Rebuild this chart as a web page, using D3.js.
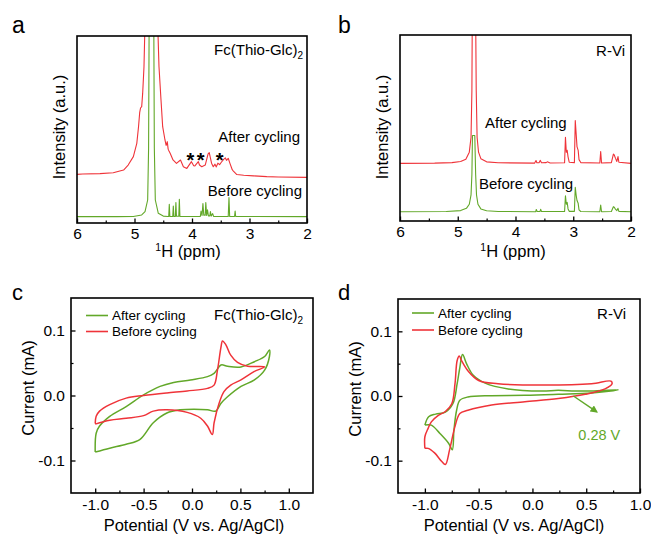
<!DOCTYPE html>
<html>
<head>
<meta charset="utf-8">
<script src="https://cdn.jsdelivr.net/npm/d3@7"></script>
<style>
  body { margin: 0; background: #fff; }
  svg { font-family: Arial, "Liberation Sans", sans-serif; }
</style>
</head>
<body>
<svg id="fig" width="651" height="535"></svg>
<script>
const RED = '#ef3339', GREEN = '#62a829';

// NMR Fc(Thio-Glc)2 : [ppm, intensity a.u.]
const nmrA_after = [
  [6.0,26.0],[5.9,26.2],[5.6,26.4],[5.37,26.9],[5.19,28.3],[5.11,31.0],[5.02,35.5],[4.96,42.6],[4.93,51.5],[4.91,59],
  [4.895,61.5],[4.875,62.2],[4.858,69.3],[4.835,83.6],[4.80,130],[4.62,130],[4.574,83.6],[4.539,65.8],[4.51,51.5],
  [4.47,44.4],[4.45,41.5],[4.43,43.5],[4.415,39.5],[4.40,38.5],[4.38,37.3],[4.33,33.7],[4.27,31.9],[4.20,33.7],
  [4.15,30.1],[4.09,29.2],[4.01,32.8],[3.97,30.6],[3.95,30.5],[3.89,32.8],[3.87,31],[3.83,30.1],[3.77,31],[3.72,37],
  [3.70,37.6],[3.66,32],[3.63,30.1],[3.60,31.5],[3.58,30],[3.55,32],[3.52,31.2],[3.49,32.5],[3.45,34],[3.42,34.8],
  [3.40,33.5],[3.37,34.6],[3.34,31.9],[3.30,28.5],[3.28,27.8],[3.22,25.9],[3.1,25.5],[2.93,25.2],[2.70,24.8],[2.5,24.6],[2.0,24.4]
];
const nmrA_before = [
  [6.0,3.4],[5.3,3.4],[5.02,3.5],[4.875,4.3],[4.817,6.1],[4.771,12.3],[4.755,40],[4.745,110],[4.665,110],[4.655,40],
  [4.638,12.3],[4.586,5.2],[4.50,3.7],[4.42,3.5],
  [4.405,3.5],[4.395,10.0],[4.385,3.5],[4.335,3.5],[4.325,9.1],[4.315,3.5],[4.29,3.5],[4.28,10.9],[4.27,3.6],
  [4.23,3.6],[4.22,12.7],[4.21,3.5],
  [3.855,3.5],[3.843,6.4],[3.825,4.0],[3.81,10.4],[3.795,4.2],[3.77,4.2],[3.76,10.9],[3.745,4.0],[3.73,7.1],[3.715,3.8],
  [3.69,3.8],[3.68,6.1],[3.665,3.7],[3.64,5.0],[3.625,3.5],
  [3.37,3.5],[3.357,13.6],[3.345,3.5],[3.26,3.5],[3.25,6.4],[3.24,3.5],[2.0,3.4]
];
const starPpm = [4.03, 3.85, 3.52];
const starLevel = 30.2;

// NMR R-Vi
const nmrB_after = [
  [6.0,31.0],[5.4,31.1],[5.1,31.4],[4.95,32.0],[4.86,33.2],[4.80,37],[4.77,45],[4.755,70],[4.745,130],[4.695,130],
  [4.68,70],[4.665,45],[4.64,37],[4.60,33.5],[4.50,31.8],[4.3,31.3],[3.67,31.1],[3.645,32.5],[3.63,31.3],[3.59,31.4],
  [3.57,32.6],[3.55,31.3],[3.47,31.4],[3.45,31.8],[3.40,31.2],
  [3.15,31.3],[3.135,45.0],[3.12,37],[3.105,38],[3.09,34.5],[3.07,31.6],
  [2.98,31.4],[2.965,54],[2.95,47],[2.935,40],[2.915,38],[2.90,33],[2.87,31.4],
  [2.54,31.2],[2.525,37.3],[2.51,31.2],
  [2.34,31.4],[2.32,34],[2.305,36],[2.29,35.5],[2.27,33.8],[2.245,32],[2.225,34.6],[2.21,31.6],[2.0,31.0]
];
const nmrB_before = [
  [6.0,5.0],[5.2,5.1],[4.95,5.6],[4.85,6.8],[4.80,9],[4.77,14],[4.755,25],[4.745,46],[4.705,46],[4.69,25],[4.675,14],
  [4.65,9],[4.60,6.5],[4.50,5.5],[4.3,5.1],
  [3.65,5.0],[3.64,6.2],[3.625,5.1],[3.575,5.2],[3.565,6.3],[3.55,5.1],
  [3.15,5.1],[3.135,13.6],[3.12,9],[3.105,10],[3.09,6.5],[3.07,5.2],
  [2.98,5.2],[2.965,18.1],[2.95,14],[2.935,11],[2.915,9.5],[2.90,6],[2.87,5.1],
  [2.54,5.0],[2.525,8.6],[2.51,5.0],
  [2.34,5.1],[2.32,6.6],[2.305,7.7],[2.29,7.4],[2.27,6.4],[2.245,5.6],[2.225,6.8],[2.21,5.2],[2.0,5.0]
];

// CV : [potential V, current mA]
const cvC_after = [
  [-1.0,-0.087],[-0.99,-0.058],[-0.955,-0.047],[-0.85,-0.032],[-0.68,-0.017],[-0.50,0.001],[-0.33,0.014],[-0.19,0.020],
  [-0.016,0.024],[0.16,0.029],[0.228,0.034],[0.30,0.047],[0.367,0.045],[0.506,0.044],[0.645,0.052],[0.75,0.060],[0.80,0.070],
  [0.80,0.06],[0.75,0.039],[0.645,0.024],[0.506,0.014],[0.367,-0.002],[0.30,-0.012],[0.245,-0.024],[0.16,-0.022],
  [0.02,-0.021],[-0.12,-0.022],[-0.26,-0.027],[-0.40,-0.042],[-0.54,-0.068],[-0.68,-0.075],[-0.85,-0.081],[-1.0,-0.087]
];
const cvC_before = [
  [-1.0,-0.043],[-0.99,-0.032],[-0.955,-0.024],[-0.85,-0.014],[-0.68,-0.004],[-0.5,0.0],[-0.26,0.004],[-0.05,0.007],
  [0.16,0.011],[0.228,0.016],[0.263,0.039],[0.30,0.075],[0.315,0.084],[0.35,0.078],[0.40,0.062],[0.47,0.051],
  [0.575,0.045],[0.75,0.044],[0.645,0.037],[0.506,0.024],[0.40,0.016],[0.33,0.006],[0.28,-0.012],[0.228,-0.042],
  [0.21,-0.060],[0.16,-0.047],[0.09,-0.035],[-0.05,-0.026],[-0.26,-0.022],[-0.40,-0.024],[-0.50,-0.031],
  [-0.68,-0.035],[-0.85,-0.038],[-1.0,-0.044]
];
const cvD_after = [
  [-1.0,-0.045],[-0.965,-0.032],[-0.90,-0.028],[-0.81,-0.025],[-0.74,-0.012],[-0.70,0.019],[-0.675,0.044],[-0.65,0.064],
  [-0.61,0.049],[-0.55,0.032],[-0.44,0.020],[-0.225,0.011],[0.085,0.0077],[0.24,0.0087],[0.395,0.0077],[0.55,0.0077],
  [0.80,0.0097],[0.55,0.0046],[0.24,0.0026],[-0.07,0.001],[-0.38,0.0005],[-0.60,-0.0015],[-0.675,-0.0066],
  [-0.705,-0.022],[-0.73,-0.053],[-0.745,-0.083],[-0.78,-0.073],[-0.86,-0.058],[-0.94,-0.045],[-1.0,-0.045]
];
const cvD_before = [
  [-1.0,-0.081],[-1.0,-0.063],[-0.97,-0.05],[-0.94,-0.04],[-0.875,-0.030],[-0.81,-0.024],[-0.75,-0.012],[-0.72,0.019],
  [-0.70,0.055],[-0.68,0.062],[-0.66,0.055],[-0.60,0.039],[-0.50,0.024],[-0.32,0.019],[0.085,0.017],[0.55,0.019],
  [0.73,0.023],[0.74,0.019],[0.675,0.011],[0.49,0.0026],[0.24,-0.004],[-0.07,-0.009],[-0.38,-0.014],[-0.60,-0.022],
  [-0.675,-0.027],[-0.72,-0.047],[-0.77,-0.083],[-0.81,-0.106],[-0.845,-0.101],[-0.91,-0.088],[-0.97,-0.081],[-1.0,-0.081]
];
const arrowD = [[0.381,0.0],[0.598,-0.0245]];

// ticks
const ppmTicks = [6, 5, 4, 3, 2];
const ppmLabels = ['6', '5', '4', '3', '2'];
const ppmMinor = [5.5, 4.5, 3.5, 2.5];
const cvXTicks = [-1, -0.5, 0, 0.5, 1];
const cvXLabels = ['-1.0', '-0.5', '0.0', '0.5', '1.0'];
const cvXMinor = [-0.75, -0.25, 0.25, 0.75];
const cvYTicks = [-0.1, 0, 0.1];
const cvYLabels = ['-0.1', '0.0', '0.1'];
const cvYMinor = [-0.05, 0.05];

const svg = d3.select('#fig');
const FONT = 'Arial, "Liberation Sans", sans-serif';

function makePanel(box, xDom, yDom, name) {
  const x = d3.scaleLinear().domain(xDom).range([box.x0, box.x1]);
  const y = d3.scaleLinear().domain(yDom).range([box.y1, box.y0]);
  const g = svg.append('g');
  g.append('clipPath').attr('id', 'clip-' + name)
    .append('rect').attr('x', box.x0).attr('y', box.y0)
    .attr('width', box.x1 - box.x0).attr('height', box.y1 - box.y0);
  const plot = g.append('g').attr('clip-path', `url(#clip-${name})`);
  return { box, x, y, g, plot };
}

function xAxis(p, ticks, labels, minor, pad) {
  const a = p.g.append('g').attr('transform', `translate(0,${p.box.y1})`)
    .call(d3.axisBottom(p.x).tickValues(ticks).tickFormat((d, i) => labels[i]).tickSize(-4.5).tickPadding(pad))
    .attr('font-size', 15.5).attr('font-family', FONT);
  a.select('.domain').remove();
  a.selectAll('line').attr('stroke-width', 1.3);
  const m = p.g.append('g').attr('transform', `translate(0,${p.box.y1})`)
    .call(d3.axisBottom(p.x).tickValues(minor).tickFormat('').tickSize(-2.5));
  m.select('.domain').remove();
  m.selectAll('line').attr('stroke-width', 1.2);
}

function yAxis(p, ticks, labels, minor) {
  const a = p.g.append('g').attr('transform', `translate(${p.box.x0},0)`)
    .call(d3.axisLeft(p.y).tickValues(ticks).tickFormat((d, i) => labels[i]).tickSize(-4.5).tickPadding(6))
    .attr('font-size', 15.5).attr('font-family', FONT);
  a.select('.domain').remove();
  a.selectAll('line').attr('stroke-width', 1.3);
  const m = p.g.append('g').attr('transform', `translate(${p.box.x0},0)`)
    .call(d3.axisLeft(p.y).tickValues(minor).tickFormat('').tickSize(-2.5));
  m.select('.domain').remove();
  m.selectAll('line').attr('stroke-width', 1.2);
}

function frame(p) {
  p.g.append('rect').attr('x', p.box.x0).attr('y', p.box.y0)
    .attr('width', p.box.x1 - p.box.x0).attr('height', p.box.y1 - p.box.y0)
    .attr('fill', 'none').attr('stroke', '#000').attr('stroke-width', 1.6);
}

function trace(p, data, color, w, curve) {
  const line = d3.line().x(d => p.x(d[0])).y(d => p.y(d[1])).curve(curve || d3.curveLinear);
  p.plot.append('path').datum(data).attr('d', line)
    .attr('fill', 'none').attr('stroke', color).attr('stroke-width', w)
    .attr('stroke-linejoin', 'round');
}

function text(x, y, str, size, opts = {}) {
  return svg.append('text').attr('x', x).attr('y', y).attr('font-size', size)
    .attr('text-anchor', opts.anchor || 'start').attr('fill', opts.fill || '#000')
    .attr('font-weight', opts.weight || 'normal').text(str);
}

function ppmTitle(cx) {
  const t = svg.append('text').attr('x', cx).attr('y', 257).attr('font-size', 16.5).attr('text-anchor', 'middle');
  t.append('tspan').attr('font-size', 10.5).attr('dy', -6).text('1');
  t.append('tspan').attr('dy', 6).text('H (ppm)');
}

function rotTitle(x, cy, str) {
  svg.append('text').attr('transform', `translate(${x},${cy}) rotate(-90)`)
    .attr('font-size', 16.5).attr('text-anchor', 'middle').text(str);
}

function fcLabel(xEnd, y) {
  const t = svg.append('text').attr('x', xEnd).attr('y', y).attr('font-size', 15).attr('text-anchor', 'end');
  t.append('tspan').text('Fc(Thio-Glc)');
  t.append('tspan').attr('font-size', 10).attr('dy', 4).text('2');
}

// ---------- panel a ----------
const pa = makePanel({ x0: 77, x1: 307, y0: 36, y1: 223 }, [6, 2], [0, 100], 'a');
trace(pa, nmrA_after, RED, 1.1);
trace(pa, nmrA_before, GREEN, 1.1);
xAxis(pa, ppmTicks, ppmLabels, ppmMinor, 4.5);
frame(pa);
starPpm.forEach(v => text(pa.x(v), pa.y(starLevel), '*', 20, { anchor: 'middle', weight: 'bold' }));
fcLabel(303, 55);
text(300, 142, 'After cycling', 15, { anchor: 'end' });
text(302, 195.5, 'Before cycling', 15, { anchor: 'end' });
ppmTitle(188);
rotTitle(65, 127, 'Intensity (a.u.)');
text(12, 33, 'a', 23);

// ---------- panel b ----------
const pb = makePanel({ x0: 400, x1: 631, y0: 35, y1: 221 }, [6, 2], [0, 100], 'b');
trace(pb, nmrB_after, RED, 1.1);
trace(pb, nmrB_before, GREEN, 1.1);
xAxis(pb, ppmTicks, ppmLabels, ppmMinor, 4.5);
frame(pb);
text(625, 56, 'R-Vi', 15, { anchor: 'end' });
text(485, 127.5, 'After cycling', 15);
text(479, 188.5, 'Before cycling', 15);
ppmTitle(513);
rotTitle(388, 127, 'Intensity (a.u.)');
text(338, 33, 'b', 23);

// ---------- panel c ----------
const pc = makePanel({ x0: 71, x1: 313, y0: 298, y1: 493 }, [-1.25, 1.25], [-0.15, 0.15], 'c');
trace(pc, cvC_after, GREEN, 1.5, d3.curveCatmullRom);
trace(pc, cvC_before, RED, 1.5, d3.curveCatmullRom);
xAxis(pc, cvXTicks, cvXLabels, cvXMinor, 6);
yAxis(pc, cvYTicks, cvYLabels, cvYMinor);
frame(pc);

function legend(x0, yA, yB) {
  svg.append('line').attr('x1', x0).attr('x2', x0 + 22).attr('y1', yA).attr('y2', yA).attr('stroke', GREEN).attr('stroke-width', 1.6);
  svg.append('line').attr('x1', x0).attr('x2', x0 + 22).attr('y1', yB).attr('y2', yB).attr('stroke', RED).attr('stroke-width', 1.6);
  text(x0 + 26, yA + 4.5, 'After cycling', 13.5);
  text(x0 + 26, yB + 4.5, 'Before cycling', 13.5);
}
legend(86, 315.5, 331.5);
fcLabel(303, 320);
text(194, 531, 'Potential (V vs. Ag/AgCl)', 16.5, { anchor: 'middle' });
rotTitle(34, 388, 'Current (mA)');
text(12, 300, 'c', 22);

// ---------- panel d ----------
const pd = makePanel({ x0: 398, x1: 640, y0: 299, y1: 493 }, [-1.25, 1.0], [-0.15, 0.15], 'd');
trace(pd, cvD_after, GREEN, 1.5, d3.curveCatmullRom);
trace(pd, cvD_before, RED, 1.5, d3.curveCatmullRom);
xAxis(pd, cvXTicks, cvXLabels, cvXMinor, 6);
yAxis(pd, cvYTicks, cvYLabels, cvYMinor);
frame(pd);
legend(412, 313, 330);
text(626, 319, 'R-Vi', 15, { anchor: 'end' });

svg.append('defs').append('marker').attr('id', 'arr').attr('viewBox', '0 0 10 10')
  .attr('refX', 8).attr('refY', 5).attr('markerWidth', 5).attr('markerHeight', 5).attr('orient', 'auto')
  .append('path').attr('d', 'M0,0L10,5L0,10z').attr('fill', GREEN);
svg.append('line')
  .attr('x1', pd.x(arrowD[0][0])).attr('y1', pd.y(arrowD[0][1]))
  .attr('x2', pd.x(arrowD[1][0])).attr('y2', pd.y(arrowD[1][1]))
  .attr('stroke', GREEN).attr('stroke-width', 1.5).attr('marker-end', 'url(#arr)');
text(pd.x(0.427), pd.y(-0.068), '0.28 V', 14.5, { fill: GREEN });
text(514, 531, 'Potential (V vs. Ag/AgCl)', 16.5, { anchor: 'middle' });
rotTitle(361, 389, 'Current (mA)');
text(338, 300, 'd', 22);
</script>
</body>
</html>
